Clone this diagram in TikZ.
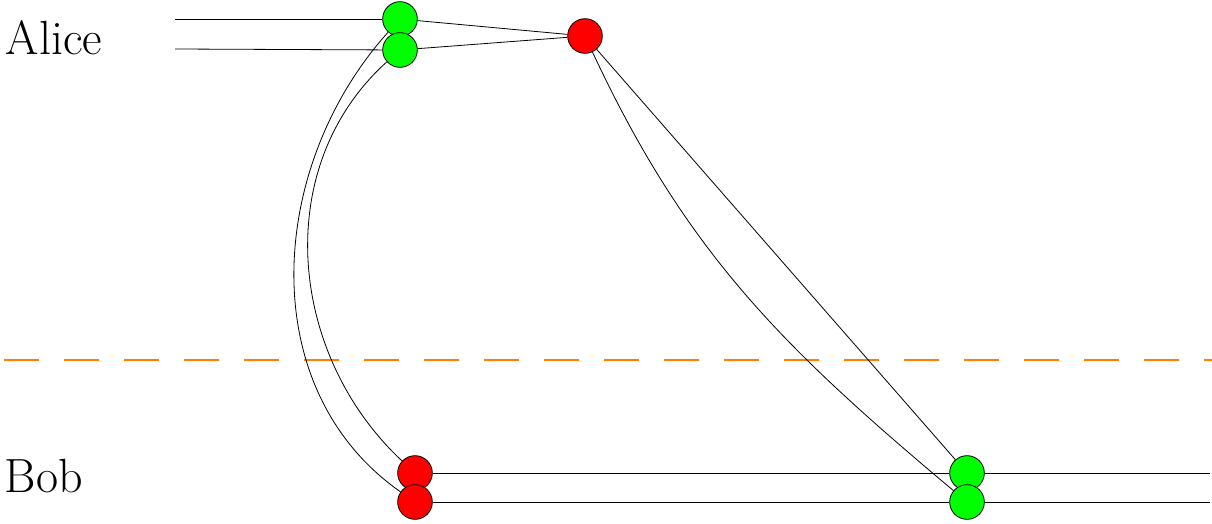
\documentclass[tikz,border=0pt]{standalone}
\usepackage{tikz}
\begin{document}
\begin{tikzpicture}[x=0.75pt, y=-0.75pt, line width=0.6pt,
    gdot/.style={circle, draw, fill=green, minimum size=26pt, inner sep=0pt},
    rdot/.style={circle, draw, fill=red, minimum size=26pt, inner sep=0pt},
    party/.style={font=\fontsize{36}{40}\selectfont, anchor=west}]
  \useasboundingbox (0,0) rectangle (1212,524);

  % Labels
  \node[party] (alice) at (1,38) {Alice};
  \node[party] (bob) at (0,476) {Bob};

  % Split line
  \draw[orange, dash pattern=on 26pt off 19pt, thick] (4,360) -- (1212,360);

  % Nodes
  \coordinate (a1) at (175,19);
  \coordinate (a2) at (175,49);
  \coordinate (b1) at (1210,473);
  \coordinate (b2) at (1210,502);
  \node[gdot] (g1) at (400,19) {};
  \node[gdot] (g2) at (400,50) {};
  \node[rdot] (r0) at (585,36) {};
  \node[rdot] (r1) at (415,473) {};
  \node[rdot] (r2) at (415,502) {};
  \node[gdot] (g3) at (967,473) {};
  \node[gdot] (g4) at (967,502) {};

  % Alice wires
  \draw (a1) -- (g1);
  \draw (a2) -- (g2);
  \draw (g1) -- (r0);
  \draw (g2) -- (r0);

  % Curves down
  \draw (g1) to[out=228, in=145] (r2);
  \draw (g2) to[out=222, in=137] (r1);
  \draw (r0) -- (g3);
  \draw (r0) to[out=-65, in=140] (g4);

  % Bob wires
  \draw (r1) -- (g3) -- (b1);
  \draw (r2) -- (g4) -- (b2);
\end{tikzpicture}
\end{document}
